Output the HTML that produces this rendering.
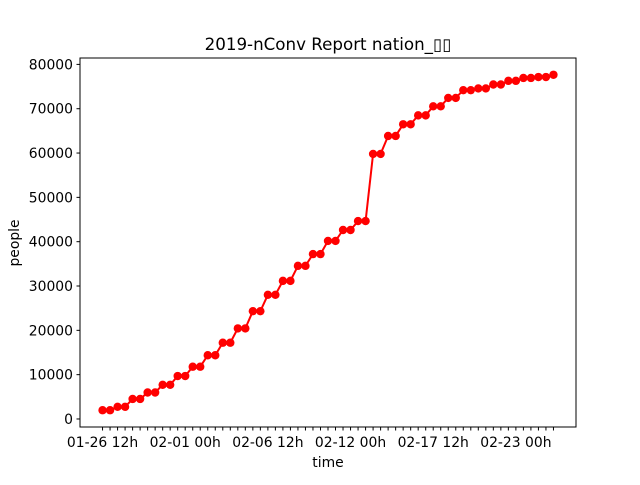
<!DOCTYPE html>
<html><head><meta charset="utf-8"><style>
body{margin:0;background:#fff}
svg text{font-family:"DejaVu Sans","Liberation Sans",sans-serif;fill:#000}
</style></head><body>
<svg width="640" height="480" viewBox="0 0 640 480">
<rect width="640" height="480" fill="#fff"/>
<text x="328" y="50" font-size="16.7" text-anchor="middle">2019-nConv Report nation_▯▯</text>
<g id="yaxis"></g>
<g id="xaxis"></g>
<g id="series"></g>
<rect x="80" y="58" width="496" height="369" fill="none" stroke="#000" stroke-width="1"/>
<text x="0" y="0" font-size="13.9" text-anchor="middle" transform="translate(19,243) rotate(-90)">people</text>
<text x="328" y="467" font-size="13.9" text-anchor="middle">time</text>
</svg>
<script>
const dailyValues=[1975,2744,4515,5974,7711,9692,11791,14380,17205,20438,24324,28018,31161,34546,37198,40171,42638,44653,59804,63851,66492,68500,70548,72436,74185,74576,75465,76288,76936,77150];
const lastValue=77658;
const xTickLabels=["01-26 12h","02-01 00h","02-06 12h","02-12 00h","02-17 12h","02-23 00h"];
const xTickEvery=11;
const yTicks=[0,10000,20000,30000,40000,50000,60000,70000,80000];

const values=[];
dailyValues.forEach(v=>{values.push(v);values.push(v);});
values.push(lastValue);
const NS="http://www.w3.org/2000/svg";
const L=80,R=576,T=58,B=427;
const n=values.length;
const xmin=-(n-1)*0.05,xmax=(n-1)*1.05;
const vmin=Math.min(...values),vmax=Math.max(...values),pad=(vmax-vmin)*0.05;
const ymin=vmin-pad,ymax=vmax+pad;
const X=i=>L+(i-xmin)/(xmax-xmin)*(R-L);
const Y=v=>B-(v-ymin)/(ymax-ymin)*(B-T);
function mk(tag,attrs,parent){const e=document.createElementNS(NS,tag);for(const k in attrs)e.setAttribute(k,attrs[k]);parent.appendChild(e);return e;}
const ya=document.getElementById('yaxis'),xa=document.getElementById('xaxis'),sr=document.getElementById('series');
yTicks.forEach(t=>{
  const y=Y(t);
  const ln=mk('line',{x1:L-3.5,x2:L,y1:y,y2:y,stroke:'#000','stroke-width':1},ya);
  
  
  const tx=mk('text',{x:L-7,y:y+5,'font-size':13.9,'text-anchor':'end'},ya);
  
  
  tx.textContent=t;
});
for(let i=0;i<n;i++){
  const x=X(i);
  const ln=mk('line',{x1:x,x2:x,y1:B,y2:B+3.5,stroke:'#000','stroke-width':1},xa);
  
  
  if(i%xTickEvery===0&&xTickLabels[i/xTickEvery]){
    const tx=mk('text',{x:x,y:B+20,'font-size':13.9,'text-anchor':'middle'},xa);
    
    
    tx.textContent=xTickLabels[i/xTickEvery];
  }
}
const pl=mk('polyline',{points:values.map((v,i)=>X(i)+','+Y(v)).join(' '),fill:'none',stroke:'#ff0000','stroke-width':2},sr);


values.forEach((v,i)=>{
  const c=mk('circle',{cx:X(i),cy:Y(v),r:4.2,fill:'#ff0000'},sr);
  
  
});
</script>
</body></html>
